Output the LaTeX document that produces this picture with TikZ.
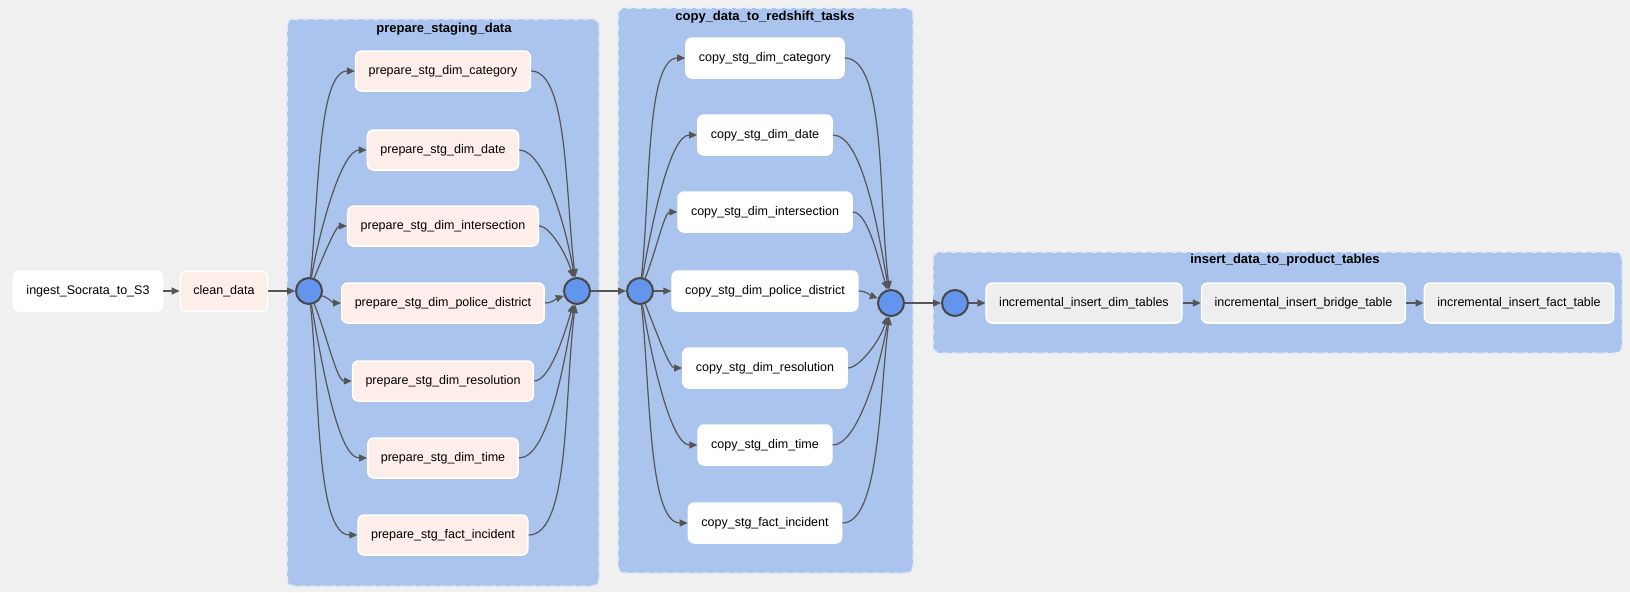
\documentclass[tikz,border=0pt]{standalone}
\usepackage{fontspec}
\setmainfont{Liberation Sans}
\usetikzlibrary{arrows.meta}
\definecolor{bggray}{HTML}{F0F0F0}
\definecolor{grpblue}{HTML}{AAC4EE}
\definecolor{dotblue}{HTML}{6495ED}
\definecolor{taskpink}{HTML}{FDEEE9}
\definecolor{taskgray}{HTML}{EEEEEE}
\definecolor{edgegray}{HTML}{555555}
\begin{document}
\begin{tikzpicture}[x=1pt,y=-1pt,
  task/.style={draw=white,line width=1.5pt,rounded corners=6pt,minimum height=40pt,inner xsep=13pt,font=\fontsize{12.5}{15}\selectfont},
  joint/.style={circle,draw=edgegray!85!black,line width=2pt,fill=dotblue,minimum size=26pt,inner sep=0pt},
  group/.style={fill=grpblue,draw=white!60!grpblue,dash pattern=on 6pt off 4pt,line width=1.5pt,rounded corners=7pt},
  title/.style={font=\fontsize{13}{15}\selectfont\bfseries},
  flow/.style={edgegray,line width=1.2pt,-{Triangle[length=8pt,width=7pt]}},
  fan/.style={out looseness=1,in looseness=0.45},
  gather/.style={out looseness=0.45,in looseness=1}]
\fill[bggray] (0,0) rectangle (1630,592);
% task groups
\draw[group] (287,19) rectangle (599,586);
\draw[group] (618,8) rectangle (913,573);
\draw[group] (933,252) rectangle (1622,353);
\node[title] (t1) at (444,29) {prepare\_staging\_data};
\node[title] (t2) at (765,17) {copy\_data\_to\_redshift\_tasks};
\node[title] (t3) at (1285,260) {insert\_data\_to\_product\_tables};
% first tasks
\node[task,fill=white] (ingest) at (88,291) {ingest\_Socrata\_to\_S3};
\node[task,fill=taskpink] (clean) at (224,291) {clean\_data};
\node[joint] (s1) at (309,291) {};
\node[joint] (j1) at (577,291) {};
\node[joint] (s2) at (640,291) {};
\node[joint] (j2) at (891,303) {};
\node[joint] (s3) at (955,303) {};
% staging tasks
\foreach \nm/\lbl/\yy in {pcat/dim\_category/71, pdate/dim\_date/150, pint/dim\_intersection/226,
    ppol/dim\_police\_district/303, pres/dim\_resolution/381, ptime/dim\_time/458, pfact/fact\_incident/535}
  \node[task,fill=taskpink] (\nm) at (443,\yy) {prepare\_stg\_\lbl};
% copy tasks
\foreach \nm/\lbl/\yy in {ccat/dim\_category/58, cdate/dim\_date/135, cint/dim\_intersection/212,
    cpol/dim\_police\_district/291, cres/dim\_resolution/368, ctime/dim\_time/445, cfact/fact\_incident/523}
  \node[task,fill=white] (\nm) at (765,\yy) {copy\_stg\_\lbl};
% insert tasks
\node[task,fill=taskgray] (idim) at (1084,303) {incremental\_insert\_dim\_tables};
\node[task,fill=taskgray] (ibridge) at (1303.5,303) {incremental\_insert\_bridge\_table};
\node[task,fill=taskgray] (ifact) at (1519,303) {incremental\_insert\_fact\_table};
% edges
\draw[flow] (ingest) -- (clean);
\draw[flow] (clean) -- (s1);
\foreach \nm/\oa/\ia in {pcat/84/97, pdate/80/100, pint/68/106, pres/-68/-106, ptime/-80/-100, pfact/-84/-97}{
  \draw[flow] (s1) to[out=\oa,in=180,fan] (\nm.west);
  \draw[flow] (\nm.east) to[out=0,in=\ia,gather] (j1);
}
\draw[flow] (s1) to[out=-20,in=180] (ppol.west);
\draw[flow] (ppol.east) to[out=0,in=200] (j1);
\draw[flow] (j1) -- (s2);
\foreach \nm/\oa/\ia in {ccat/84/97, cdate/80/100, cint/68/106, cres/-68/-106, ctime/-80/-100, cfact/-84/-97}{
  \draw[flow] (s2) to[out=\oa,in=180,fan] (\nm.west);
  \draw[flow] (\nm.east) to[out=0,in=\ia,gather] (j2);
}
\draw[flow] (s2) -- (cpol.west);
\draw[flow] (cpol.east) to[out=0,in=160] (j2);
\draw[flow] (j2) -- (s3);
\draw[flow] (s3) -- (idim);
\draw[flow] (idim) -- (ibridge);
\draw[flow] (ibridge) -- (ifact);
\end{tikzpicture}
\end{document}
